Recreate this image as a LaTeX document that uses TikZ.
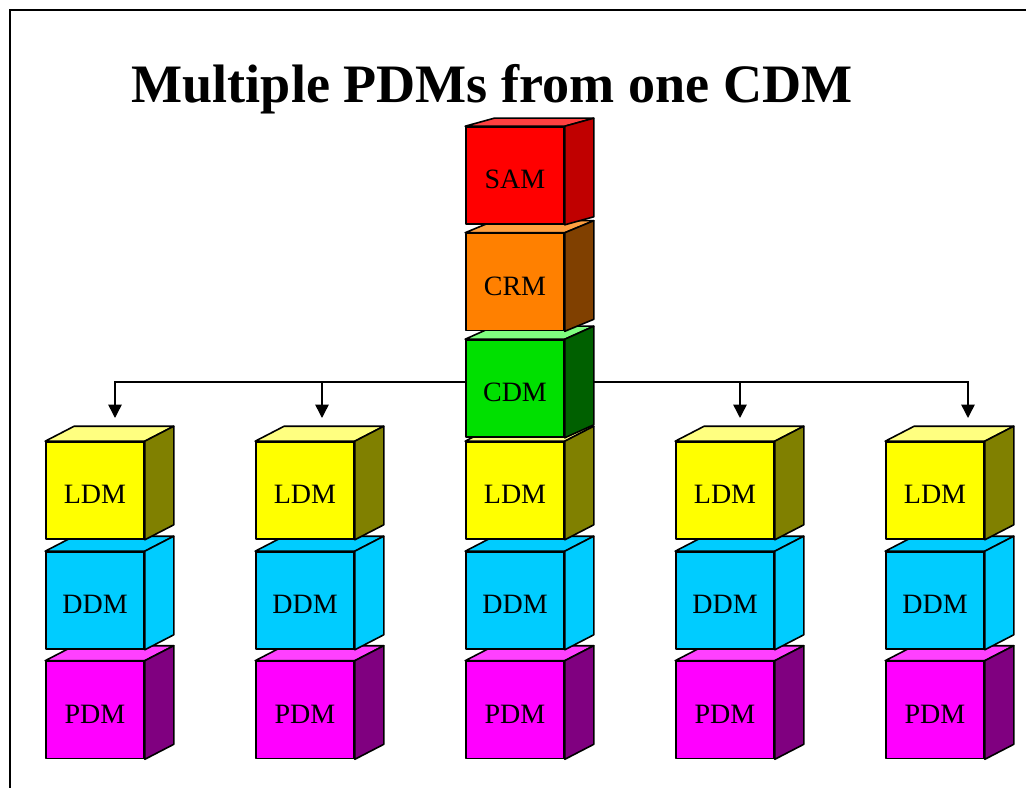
\documentclass[tikz,border=0pt]{standalone}
\usepackage{fontspec}
\setmainfont{Liberation Serif}
\usetikzlibrary{calc, arrows.meta, positioning}
\pgfdeclarelayer{background}
\pgfsetlayers{background,main}

% face colours of the cubes: F front, T top, S side
\definecolor{samF}{RGB}{255,0,0}   \definecolor{samT}{RGB}{255,64,64}   \definecolor{samS}{RGB}{192,0,0}
\definecolor{crmF}{RGB}{255,128,0} \definecolor{crmT}{RGB}{255,160,64}  \definecolor{crmS}{RGB}{128,64,0}
\definecolor{cdmF}{RGB}{0,224,0}   \definecolor{cdmT}{RGB}{128,255,128} \definecolor{cdmS}{RGB}{0,96,0}
\definecolor{ldmF}{RGB}{255,255,0} \definecolor{ldmT}{RGB}{255,255,128} \definecolor{ldmS}{RGB}{128,128,0}
\definecolor{ddmF}{RGB}{0,204,255} \definecolor{ddmT}{RGB}{0,204,255}   \definecolor{ddmS}{RGB}{0,204,255}
\definecolor{pdmF}{RGB}{255,0,255} \definecolor{pdmT}{RGB}{255,64,255}  \definecolor{pdmS}{RGB}{128,0,128}

\tikzset{
  face/.style={draw=black, line width=1.2pt, line join=round},
  frontface/.style={face, minimum width=73.5pt, minimum height=72.75pt, inner sep=0pt,
    text height=20pt, text depth=0pt, font=\fontsize{21}{21}\selectfont},
  conn/.style={line width=1.1pt, -{Triangle[length=10pt,width=10pt]}},
}

% #1 name, #2 centre of front face, #3 colour set, #4 label, #5 depth rise
\newcommand{\datacube}[5]{%
  \node[frontface, fill=#3F] (#1) at (#2) {#4};
  \filldraw[face, fill=#3T] (#1.north west) -- ++(29,-#5) -- ($(#1.north east)+(29,-#5)$) -- (#1.north east) -- cycle;
  \filldraw[face, fill=#3S] (#1.north east) -- ++(29,-#5) -- ($(#1.south east)+(29,-#5)$) -- (#1.south east) -- cycle;
}

\begin{document}
\begin{tikzpicture}[x=0.75pt, y=-0.75pt]
  \useasboundingbox (0,0) rectangle (1026,788);
  % frame of the slide
  \draw[line width=0.9pt] (10,788) -- (10,10) -- (1026,10);
  % title
  \node[anchor=base, font=\fontsize{40.6}{40.6}\selectfont\bfseries] (title) at (492,103) {Multiple PDMs from one CDM};

  % columns of cubes, lowest row first
  \foreach \x [count=\i] in {95,305,515,725,935} {
    \datacube{pdm\i}{\x,710}{pdm}{PDM}{15}
    \datacube{ddm\i}{\x,600.5}{ddm}{DDM}{15}
    \datacube{ldm\i}{\x,490.5}{ldm}{LDM}{15}
  }
  \datacube{cdm}{515,388.5}{cdm}{CDM}{13}
  \datacube{crm}{515,282}{crm}{CRM}{12}
  \datacube{sam}{515,175.5}{sam}{SAM}{8}

  % arrows from the CDM to the other columns
  \coordinate (a1) at (115,418);
  \coordinate (a2) at (322,418);
  \coordinate (a4) at (740,418);
  \coordinate (a5) at (968,418);
  \begin{pgfonlayer}{background}
    \foreach \t in {a1,a2,a4,a5}
      \draw[conn] ([yshift=4.9pt]cdm.center) -| (\t);
  \end{pgfonlayer}
\end{tikzpicture}
\end{document}
